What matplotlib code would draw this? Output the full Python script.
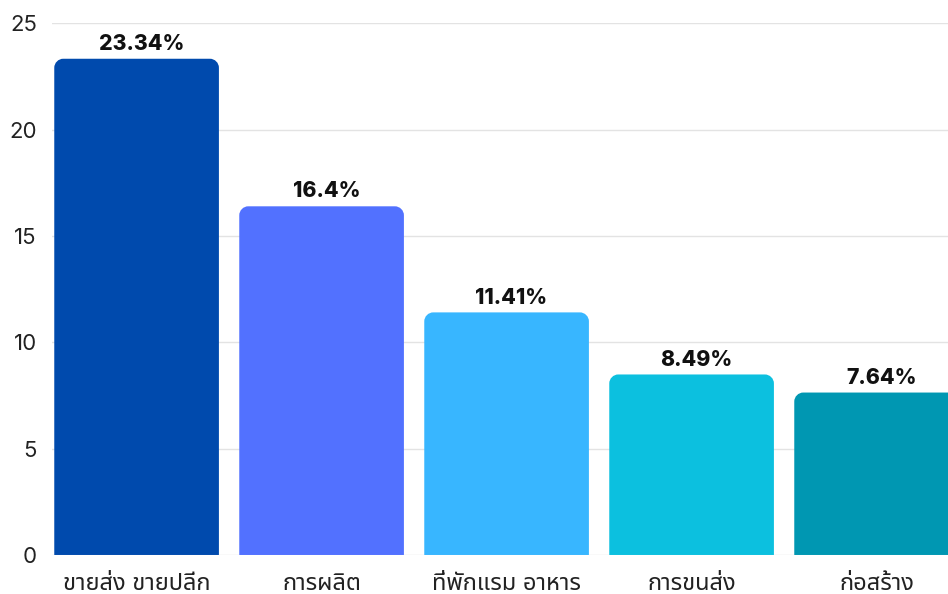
import matplotlib
matplotlib.use("Agg")
import matplotlib.pyplot as plt
from matplotlib.path import Path
from matplotlib.patches import PathPatch

# data
categories = ["ขายส่ง ขายปลีก", "การผลิต", "ที่พักแรม อาหาร", "การขนส่ง", "ก่อสร้าง"]
values = [23.34, 16.4, 11.41, 8.49, 7.64]
value_labels = ["23.34%", "16.4%", "11.41%", "8.49%", "7.64%"]
colors = ["#004AAD", "#5271FF", "#38B6FF", "#0CC0DF", "#0097B2"]
yticks = [0, 5, 10, 15, 20, 25]

plt.rcParams['font.family'] = ['Inter', 'Noto Sans Thai', 'DejaVu Sans']

fig = plt.figure(figsize=(9.48, 5.94), dpi=100)
ax = fig.add_axes([0.0549, 0.0657, 0.9451, 0.8948])

bar_w = 0.89
xs = list(range(len(categories)))
bars = ax.bar(xs, values, width=bar_w, color=colors, zorder=2)

ax.set_xlim(-0.457, 4.386)
ax.set_ylim(0, 25)

# rounded top corners: radius about 9 px, converted to data units
rx = 9 / 185.0
ry = 9 / 21.26
for b, c in zip(bars, colors):
    x0 = b.get_x()
    x1 = x0 + b.get_width()
    h = b.get_height()
    k = 0.55
    verts = [
        (x0, 0), (x1, 0), (x1, h - ry),
        (x1, h - ry + k * ry), (x1 - rx + k * rx, h), (x1 - rx, h),
        (x0 + rx, h),
        (x0 + rx - k * rx, h), (x0, h - ry + k * ry), (x0, h - ry),
        (x0, 0),
    ]
    codes = [Path.MOVETO, Path.LINETO, Path.LINETO,
             Path.CURVE4, Path.CURVE4, Path.CURVE4,
             Path.LINETO,
             Path.CURVE4, Path.CURVE4, Path.CURVE4,
             Path.CLOSEPOLY]
    b.set_visible(False)
    ax.add_patch(PathPatch(Path(verts, codes), facecolor=c, edgecolor="none", zorder=2))

for x, v, lab in zip(xs, values, value_labels):
    ax.annotate(lab, (x, v), xytext=(3.5, 3.5), textcoords="offset points",
                ha="center", va="bottom", fontsize=15.3, fontweight="heavy",
                color="#111111", annotation_clip=False)

ax.set_xticks(xs)
ax.set_xticklabels(categories, fontsize=17, color="#222222")
ax.set_yticks(yticks)
ax.set_yticklabels([str(t) for t in yticks], fontsize=16, color="#222222")
ax.tick_params(axis="both", length=0)
ax.tick_params(axis="x", pad=13)
ax.tick_params(axis="y", pad=11)

ax.grid(axis="y", color="#e3e3e3", linewidth=1, zorder=0)
for s in ax.spines.values():
    s.set_visible(False)

plt.savefig("out.png", dpi=100)
